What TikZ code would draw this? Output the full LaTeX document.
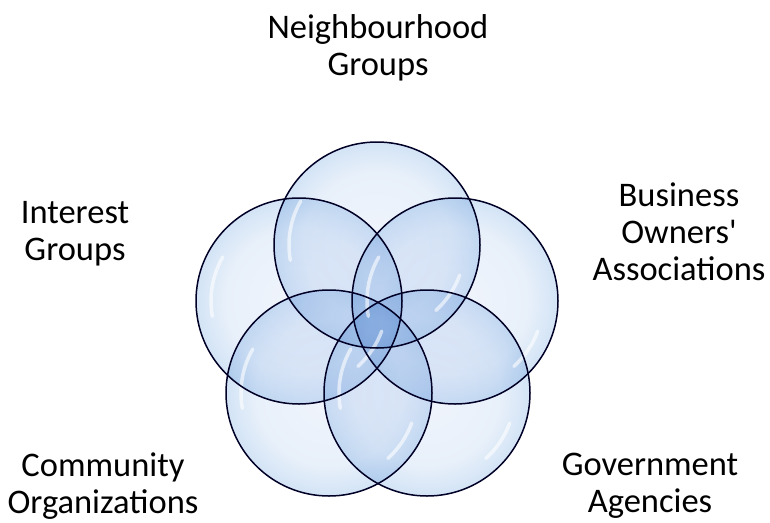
\documentclass[tikz,border=0pt]{standalone}
\usepackage{fontspec}
\setmainfont{Carlito}
\usetikzlibrary{positioning}
\definecolor{bubin}{RGB}{241,245,252}
\definecolor{bubflat}{RGB}{232,240,250}
\definecolor{bubmid}{RGB}{208,226,245}
\definecolor{bubout}{RGB}{163,199,233}
\definecolor{bubedge}{RGB}{118,164,212}
\definecolor{bubrim}{RGB}{84,128,180}
\pgfdeclareradialshading{bubble}{\pgfpoint{0bp}{0bp}}{color(0bp)=(bubin); color(17.7bp)=(bubflat); color(26bp)=(bubmid); color(31.5bp)=(bubout); color(34.2bp)=(bubedge); color(35.4bp)=(bubrim); color(50bp)=(bubrim)}
\tikzset{bubble/.style = {circle, minimum size=206pt, inner sep=0pt,
                          shading=bubble, blend mode=multiply}}
\tikzset{rim/.style = {draw=black!85!blue, line width=1.5pt}}
\tikzset{gloss/.style = {draw=white, line width=3.5pt, line cap=round, draw opacity=0.6}}
\tikzset{group/.style = {font=\fontsize{34.5}{37}\selectfont, align=center,
                         inner sep=0pt, anchor=north}}

\begin{document}
\begin{tikzpicture}[x=1pt, y=1pt]
			\useasboundingbox (0,0) rectangle (770,-522);
			% bubbles
			\node [bubble] (1) at (377, -245) {};
			\node [bubble] (2) at (455, -301) {};
			\node [bubble] (3) at (427, -393) {};
			\node [bubble] (4) at (329, -393) {};
			\node [bubble] (5) at (299, -301) {};
			\foreach \n in {1,...,5} {
				\draw [gloss] (\n.center) ++(150:88) arc [start angle=150, end angle=190, radius=88];
				\draw [gloss] (\n.center) ++(-20:88) arc [start angle=-20, end angle=-48, radius=88];
			}
			\foreach \n in {1,...,5}
				\draw [rim] (\n.center) circle [radius=103];
			% labels
			\node [group] (6) at (378, -14) {Neighbourhood\\Groups};
			\node [group] (7) at (679, -183) {Business\\Owners\textquotesingle\\Associations};
			\node [group] (8) at (650, -453) {Government\\Agencies};
			\node [group] (9) at (103, -453) {Community\\Organizations};
			\node [group] (10) at (75, -201) {Interest\\Groups};
		\end{tikzpicture}
\end{document}
